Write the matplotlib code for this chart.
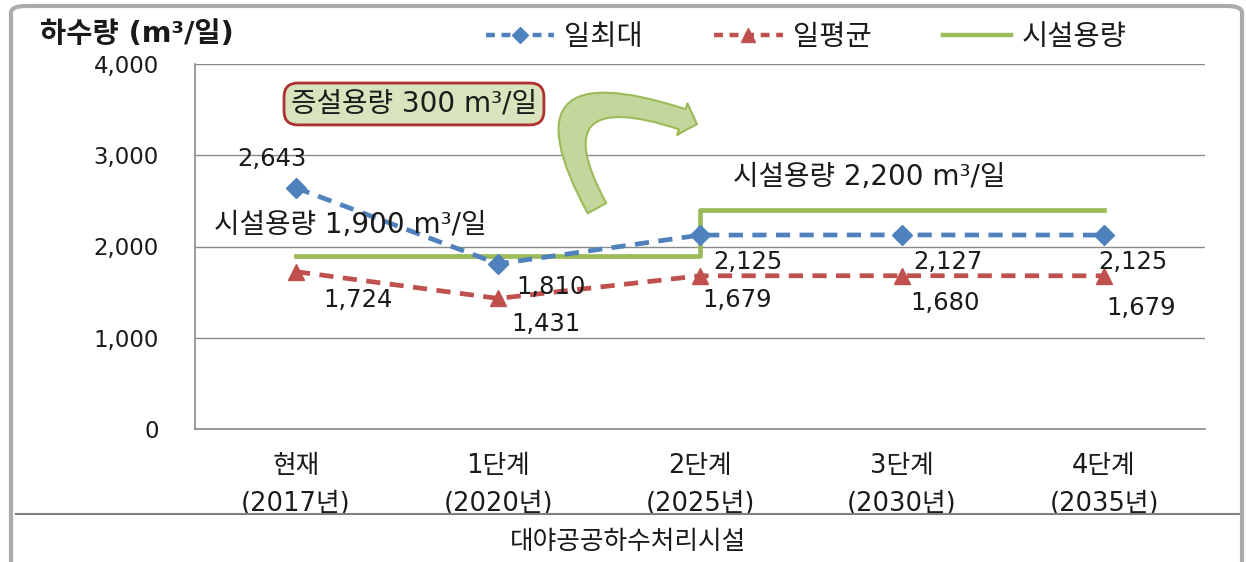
import matplotlib
matplotlib.use('Agg')
import matplotlib.pyplot as plt
from matplotlib.patches import FancyBboxPatch, FancyArrowPatch
from matplotlib.path import Path
from matplotlib.lines import Line2D
from matplotlib.ticker import FuncFormatter

plt.rcParams['font.family'] = ['DejaVu Sans', 'Noto Sans CJK KR']

# data
stages = ['현재\n(2017년)', '1단계\n(2020년)', '2단계\n(2025년)', '3단계\n(2030년)', '4단계\n(2035년)']
daily_max = [2643, 1810, 2125, 2127, 2125]
daily_avg = [1724, 1431, 1679, 1680, 1679]
capacity = [1900, 1900, 2400, 2400, 2400]
series_names = ['일최대', '일평균', '시설용량']

# label offsets in pixels (dx, dy) from each point
max_offsets = [(-24, 29), (53, -23), (48, -27), (46, -27), (29, -27)]
avg_offsets = [(62, -28), (48, -26), (37, -24), (43, -27), (37, -32)]

BLUE = '#4F81BD'
RED = '#C0504D'
GREEN = '#9BBB59'
TXT = '#1a1a1a'

W, H = 1246, 562
fig = plt.figure(figsize=(W / 100, H / 100), dpi=100)
ax = fig.add_axes([195 / W, 1 - 429 / H, (1205 - 195) / W, (429 - 64) / H])

x = list(range(len(stages)))
ax.plot(x, capacity, color=GREEN, lw=3.4, drawstyle='steps-post', zorder=2)
ax.plot(x, daily_max, color=BLUE, lw=3.4, ls=(0, (3, 2)), marker='D', ms=10,
        mfc=BLUE, mec=BLUE, zorder=3)
ax.plot(x, daily_avg, color=RED, lw=3.4, ls=(0, (3, 2)), marker='^', ms=12,
        mfc=RED, mec=RED, zorder=3)

for xi, v, off in zip(x, daily_max, max_offsets):
    ax.annotate(f'{v:,}', (xi, v), xytext=off, textcoords='offset pixels',
                ha='center', va='center', fontsize=17.5, color=TXT, zorder=4)
for xi, v, off in zip(x, daily_avg, avg_offsets):
    ax.annotate(f'{v:,}', (xi, v), xytext=off, textcoords='offset pixels',
                ha='center', va='center', fontsize=17.5, color=TXT, zorder=4)

ax.set_xlim(-0.5, len(stages) - 0.5)
ax.set_ylim(0, 4000)
ax.set_yticks([0, 1000, 2000, 3000, 4000])
ax.yaxis.set_major_formatter(FuncFormatter(lambda v, p: f'{int(v):,}'))
ax.set_xticks(x)
ax.set_xticklabels(stages, linespacing=1.6)
ax.tick_params(axis='y', length=0, pad=26, labelsize=16.5, labelcolor=TXT)
ax.tick_params(axis='x', length=0, pad=17, labelsize=18.5, labelcolor=TXT)
ax.grid(axis='y', color='#8a8a8a', lw=1)
ax.set_axisbelow(True)
for s in ['top', 'right']:
    ax.spines[s].set_visible(False)
for s in ['left', 'bottom']:
    ax.spines[s].set_color('#8a8a8a')
    ax.spines[s].set_linewidth(1.2)

# annotations
ax.text(0.27, 2236, '시설용량 1,900 m³/일', ha='center', va='center', fontsize=20, color=TXT)
ax.text(2.84, 2762, '시설용량 2,200 m³/일', ha='center', va='center', fontsize=20, color=TXT)
ax.text(0.584, 3562, '증설용량 300 m³/일', ha='center', va='center', fontsize=20, color=TXT,
        bbox=dict(boxstyle='round,pad=0.25,rounding_size=0.5', fc='#D7E4BD', ec='#B03030', lw=2))

# curved block arrow (quadratic path, in data units)
arrow_path = Path([(1.49, 2420), (1.09, 4044), (1.985, 3340)],
                  [Path.MOVETO, Path.CURVE3, Path.CURVE3])
arrow = FancyArrowPatch(path=arrow_path,
                        arrowstyle='simple,head_length=0.7,head_width=1.5,tail_width=0.95',
                        mutation_scale=16, fc='#C3D69B', ec=GREEN, lw=1.5, zorder=1)
ax.add_patch(arrow)

# title and legend
fig.text(40 / W, 1 - 34 / H, '하수량 (m³/일)', ha='left', va='center', fontsize=20.5,
         fontweight='bold', color=TXT)

handles = [
    Line2D([], [], color=BLUE, lw=3.2, ls=(0, (2, 1.5)), marker='D', ms=8),
    Line2D([], [], color=RED, lw=3.2, ls=(0, (2, 1.5)), marker='^', ms=10),
    Line2D([], [], color=GREEN, lw=3.2),
]
fig.legend(handles, series_names, loc='center', bbox_to_anchor=(806 / W, 1 - 37 / H),
           ncol=3, frameon=False, fontsize=20.5, handlelength=2.4, columnspacing=2.5,
           handletextpad=0.36, labelcolor=TXT)

# outer frame and caption row
frame = FancyBboxPatch((11 / W, -0.05), (1242 - 11) / W, 1 - 6 / H + 0.05,
                       boxstyle='round,pad=0,rounding_size=0.012', transform=fig.transFigure,
                       fc='none', ec='#ababab', lw=3, zorder=10)
fig.patches.append(frame)
fig.add_artist(Line2D([16 / W, 1240 / W], [1 - 514 / H, 1 - 514 / H], transform=fig.transFigure,
                      color='#808080', lw=1.5))
fig.text(628 / W, 1 - 542 / H, '대야공공하수처리시설', ha='center', va='center',
         fontsize=18.5, color=TXT)

fig.savefig('out.png', dpi=100)
